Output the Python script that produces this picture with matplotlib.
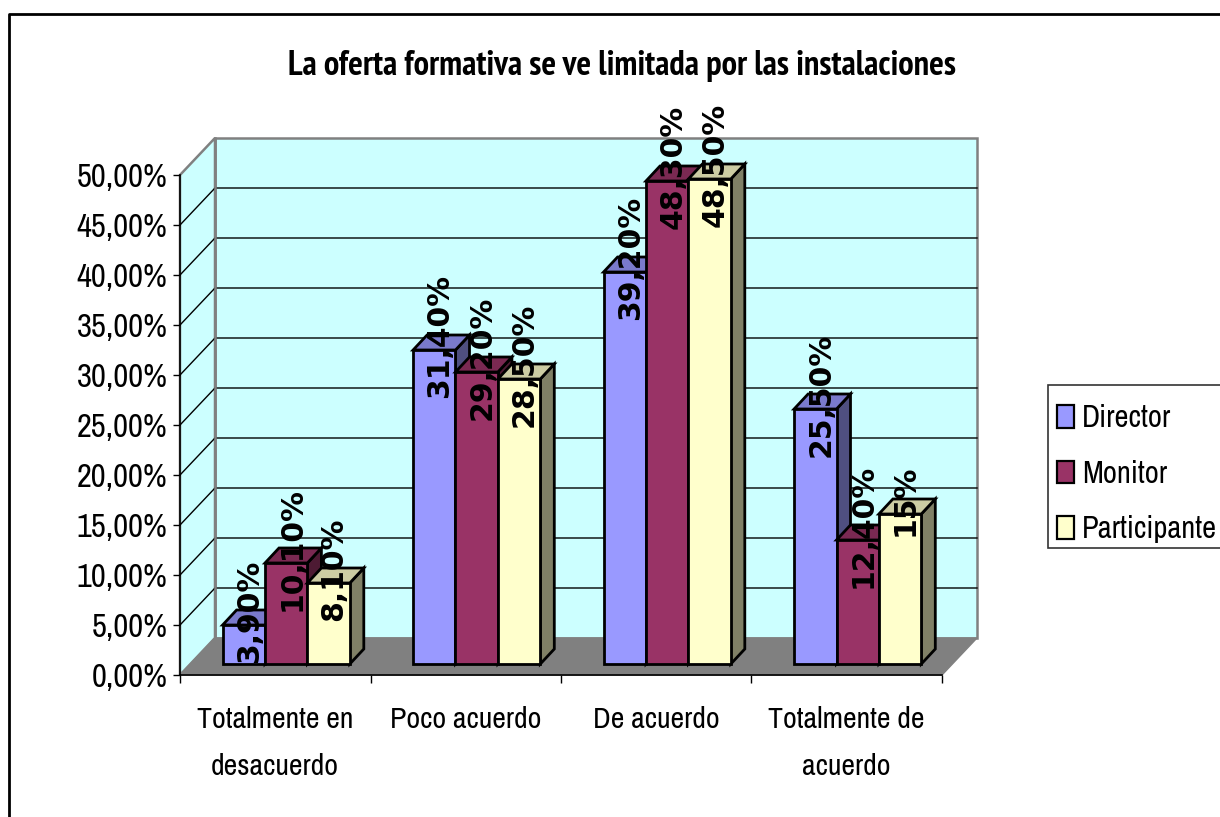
import matplotlib
matplotlib.use('Agg')
import matplotlib.pyplot as plt
import matplotlib.font_manager as fm
from matplotlib.patches import Polygon, Patch, Rectangle
from matplotlib.lines import Line2D

# Arial Narrow look when a narrow face exists, plain Liberation shrunk to fit otherwise
fonts_here = {f.name for f in fm.fontManager.ttflist}
if 'Archivo Narrow' in fonts_here:
    body_font, y_size, x_size, leg_size = 'Archivo Narrow', 23.5, 21.5, 22
else:
    body_font, y_size, x_size, leg_size = 'Liberation Sans', 18.5, 17.5, 17.5
if 'PT Sans Narrow' in fonts_here:
    title_font, title_size = 'PT Sans Narrow', 24.8
else:
    title_font, title_size = 'Liberation Sans', 19
plt.rcParams['font.family'] = [body_font, 'DejaVu Sans']

categories = ['Totalmente en\ndesacuerdo', 'Poco acuerdo', 'De acuerdo', 'Totalmente de\nacuerdo']
series_names = ['Director', 'Monitor', 'Participante']
director = [3.9, 31.4, 39.2, 25.5]
monitor = [10.1, 29.2, 48.3, 12.4]
participante = [8.1, 28.5, 48.5, 15.0]
director_labels = ['3,90%', '31,40%', '39,20%', '25,50%']
monitor_labels = ['10,10%', '29,20%', '48,30%', '12,40%']
participante_labels = ['8,10%', '28,50%', '48,50%', '15%']
y_ticks = [0, 5, 10, 15, 20, 25, 30, 35, 40, 45, 50]
y_labels = ['0,00%', '5,00%', '10,00%', '15,00%', '20,00%', '25,00%',
            '30,00%', '35,00%', '40,00%', '45,00%', '50,00%']

W, H = 1220, 817
fig = plt.figure(figsize=(W / 100, H / 100), dpi=100)
ax = fig.add_axes([180 / W, 1 - 675 / H, 762 / W, 500 / H])
ax.set_xlim(0, 4)
ax.set_ylim(0, 50)
ax.patch.set_visible(False)

# depth offsets, in data units
px_x = 4 / 762
px_y = 50 / 500
wall_dx = 35 * px_x
wall_dy = 37 * px_y
bar_dx = 14 * px_x
bar_dy = 15 * px_y
base_dy = 11 * px_y
bar_w = 42.4 * px_x
group_off = 42.4 * px_x


def poly(points, face, edge='none', lw=0.0, z=1):
    ax.add_patch(Polygon(points, closed=True, facecolor=face, edgecolor=edge,
                         linewidth=lw, zorder=z, clip_on=False, joinstyle='miter'))


# walls and floor
poly([(wall_dx, wall_dy), (4 + wall_dx, wall_dy), (4 + wall_dx, 50 + wall_dy), (wall_dx, 50 + wall_dy)],
     '#CCFFFF', '#808080', 1.8)
poly([(0, 0), (wall_dx, wall_dy), (wall_dx, 50 + wall_dy), (0, 50)], '#CCFFFF', '#808080', 1.8)
for v in y_ticks[1:-1]:
    ax.plot([0, wall_dx, 4 + wall_dx], [v, v + wall_dy, v + wall_dy], color='black', lw=1.0,
            zorder=1.5, clip_on=False)
ax.plot([wall_dx, wall_dx], [wall_dy, 50 + wall_dy], color='#808080', lw=1.8, zorder=1.6, clip_on=False)
poly([(0, 0), (4, 0), (4 + wall_dx, wall_dy), (wall_dx, wall_dy)], '#808080', '#808080', 1.0, 2)

styles = [
    ('#9999FF', '#7A7ACC', '#4F4F80'),
    ('#993366', '#7A2952', '#4D1A33'),
    ('#FFFFCC', '#CCCCA3', '#808066'),
]
values = [director, monitor, participante]
texts = [director_labels, monitor_labels, participante_labels]

z = 3
for c in range(len(categories)):
    x0 = c + 42.6 * px_x
    for s in range(3):
        v = values[s][c]
        x = x0 + s * group_off
        y = base_dy
        top = v + base_dy
        front, roof, side = styles[s]
        poly([(x + bar_w, y), (x + bar_w + bar_dx, y + bar_dy), (x + bar_w + bar_dx, top + bar_dy), (x + bar_w, top)],
             side, 'black', 2.0, z)
        poly([(x, top), (x + bar_w, top), (x + bar_w + bar_dx, top + bar_dy), (x + bar_dx, top + bar_dy)],
             roof, 'black', 2.0, z)
        poly([(x, y), (x + bar_w, y), (x + bar_w, top), (x, top)], front, 'black', 2.0, z + 0.1)
        ax.text(x + bar_w / 2 + 5.5 * px_x, top + 1.4, texts[s][c], rotation=90, ha='center', va='center',
                family='DejaVu Sans', fontweight='bold', fontsize=21.5, color='black', zorder=50, clip_on=False)
        z += 0.2

# axes
for name in ['top', 'right']:
    ax.spines[name].set_visible(False)
for name in ['left', 'bottom']:
    ax.spines[name].set_linewidth(1.2)
    ax.spines[name].set_zorder(2.5)
ax.set_yticks(y_ticks)
ax.set_yticklabels(y_labels, fontsize=y_size)
ax.tick_params(axis='y', length=5, width=1.0, pad=4)
ax.set_xticks([0, 1, 2, 3, 4])
ax.set_xticklabels([])
ax.tick_params(axis='x', which='major', length=6, width=1.0)
ax.set_xticks([0.5, 1.5, 2.5, 3.5], minor=True)
ax.set_xticklabels(categories, minor=True, fontsize=x_size, linespacing=1.95)
ax.tick_params(axis='x', which='minor', length=0, pad=22)

fig.text(622 / W, 1 - 66 / H, 'La oferta formativa se ve limitada por las instalaciones',
         ha='center', va='center', family=title_font, fontweight='bold', fontsize=title_size)

# outer border runs off the page on the right and bottom
fig.add_artist(Line2D([9 / W, 9 / W, 1], [0, 1 - 13.5 / H, 1 - 13.5 / H], color='black', lw=2.0))

# legend box is cut by the right edge of the page, so it is drawn apart from the entries
fig.add_artist(Rectangle((1048 / W, 1 - 548 / H), 190 / W, 163 / H, transform=fig.transFigure,
                         facecolor='white', edgecolor='#333333', linewidth=1.2))
handles = [Patch(facecolor=st[0], edgecolor='black', linewidth=1.6) for st in styles]
leg = fig.legend(handles, series_names, loc='upper left', bbox_to_anchor=(1057 / W, 1 - 404 / H),
                 bbox_transform=fig.transFigure, borderaxespad=0, fontsize=leg_size, frameon=False,
                 handlelength=0.56, handleheight=0.75, handletextpad=0.26, labelspacing=0.9, borderpad=0)

fig.savefig('out.png', dpi=100)
